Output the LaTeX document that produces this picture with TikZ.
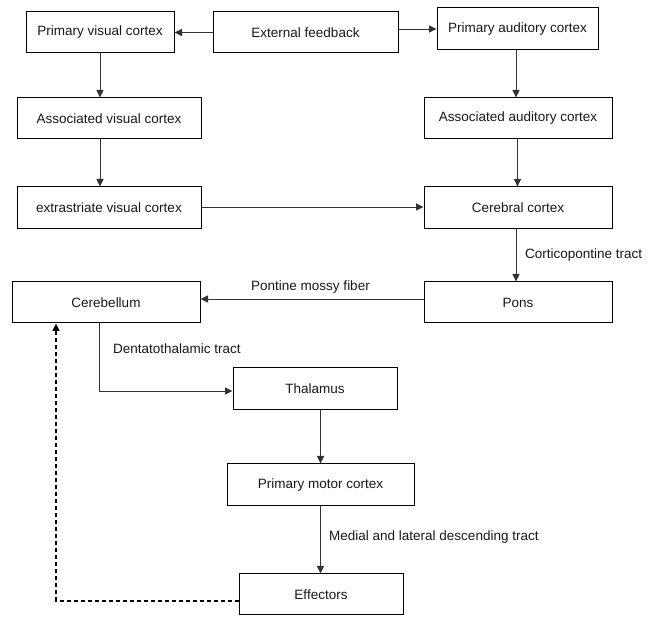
\documentclass[tikz,border=0pt]{standalone}
\usepackage{fontspec}
\setmainfont{Liberation Sans}
\usetikzlibrary{arrows.meta}
\begin{document}
\begin{tikzpicture}[x=1pt,y=-1pt,
  box/.style={draw=black,line width=1pt,fill=white,inner sep=0pt,
    font=\fontsize{13.5}{15}\selectfont,text=black!90},
  lbl/.style={inner sep=0pt,font=\fontsize{13.5}{15}\selectfont,text=black!90},
  conn/.style={draw=black!80,line width=0.9pt,-{Triangle[length=7.5pt,width=7pt]}},
  fb/.style={draw=black,line width=1.3pt,dash pattern=on 4pt off 3pt,-{Triangle[length=7.5pt,width=7pt]}}]
\useasboundingbox (0,0) rectangle (654,617);
\fill[white] (0,0) rectangle (654,617);
% nodes
\node[box,minimum width=148pt,minimum height=41pt] (pvc) at (100,32.5) {Primary visual cortex};
\node[box,minimum width=185pt,minimum height=41pt] (ext) at (305.5,32.5) {External feedback};
\node[box,minimum width=161pt,minimum height=42pt] (pac) at (517.5,29) {Primary auditory cortex};
\node[box,minimum width=184pt,minimum height=41pt] (avc) at (109,118.5) {Associated visual cortex};
\node[box,minimum width=188pt,minimum height=41pt] (aac) at (518,118.5) {Associated auditory cortex};
\node[box,minimum width=184pt,minimum height=42pt] (exv) at (109,208) {extrastriate visual cortex};
\node[box,minimum width=188pt,minimum height=42pt] (cer) at (518,208) {Cerebral cortex};
\node[box,minimum width=188pt,minimum height=41pt] (pons) at (518,302.5) {Pons};
\node[box,minimum width=188pt,minimum height=41pt] (cbl) at (106,302.5) {Cerebellum};
\node[box,minimum width=164pt,minimum height=42pt] (thal) at (315,389) {Thalamus};
\node[box,minimum width=187pt,minimum height=42pt] (pmc) at (320.5,485) {Primary motor cortex};
\node[box,minimum width=164pt,minimum height=41pt] (eff) at (321,594.5) {Effectors};
% labels
\node[lbl,anchor=west] (lct) at (525,255) {Corticopontine tract};
\node[lbl] (lpm) at (310.5,287) {Pontine mossy fiber};
\node[lbl,anchor=west] (ldt) at (113,349) {Dentatothalamic tract};
\node[lbl,anchor=west] (lmd) at (329,537) {Medial and lateral descending tract};
% connectors
\draw[conn] (ext.west) -- (pvc.east);
\draw[conn] (ext.east |- pac.west) -- (pac.west);
\draw[conn] (pvc.south) -- (pvc.south |- avc.north);
\draw[conn] (avc.south -| pvc.south) -- (exv.north -| pvc.south);
\draw[conn] ([xshift=-1.5pt]pac.south) -- ([xshift=-1.5pt]pac.south |- aac.north);
\draw[conn] (aac.south -| pac.south) -- ([xshift=0pt]cer.north -| pac.south);
\draw[conn] ([xshift=-2pt]cer.south) -- ([xshift=-2pt]pons.north);
\draw[conn] ([yshift=1pt]exv.east) -- ([yshift=1pt]exv.east -| cer.west);
\draw[conn] ([yshift=3.5pt]pons.west) -- ([yshift=3.5pt]pons.west -| cbl.east);
\draw[conn] ([xshift=-7pt]cbl.south) |- ([yshift=-2pt]thal.west);
\draw[conn] (thal.south -| pmc.north) -- (pmc.north);
\draw[conn] (pmc.south) -- (pmc.south |- eff.north);
\draw[fb] ([yshift=-6.5pt]eff.west) -| ([xshift=-50pt]cbl.south);
\end{tikzpicture}
\end{document}
